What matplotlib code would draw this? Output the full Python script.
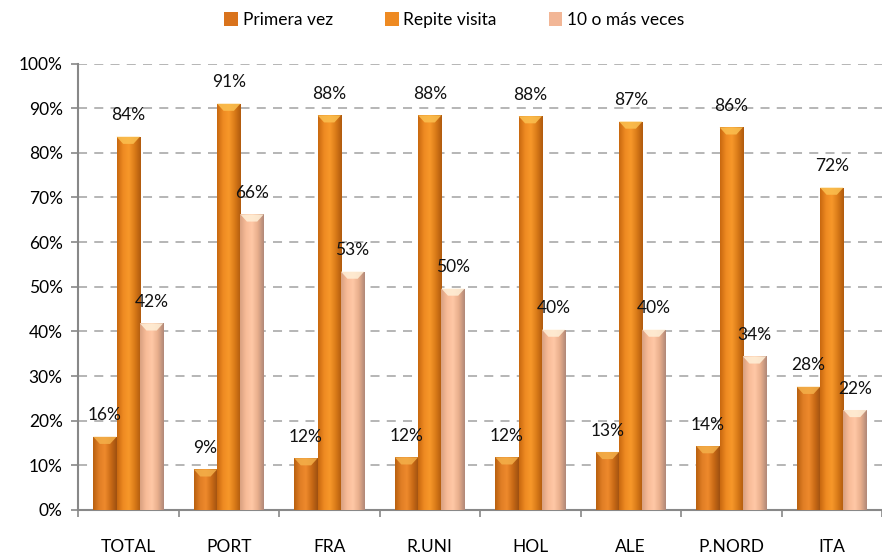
import matplotlib
matplotlib.use("Agg")
import matplotlib.pyplot as plt
import numpy as np
from matplotlib.colors import LinearSegmentedColormap
from matplotlib.patches import Patch, Polygon

categories = ["TOTAL", "PORT", "FRA", "R.UNI", "HOL", "ALE", "P.NORD", "ITA"]
series_names = ["Primera vez", "Repite visita", "10 o más veces"]
primera = [16.4, 9.1, 11.6, 11.8, 11.8, 13.0, 14.3, 27.6]
repite = [83.6, 91.0, 88.4, 88.4, 88.2, 87.0, 85.7, 72.2]
diez = [41.8, 66.2, 53.4, 49.6, 40.4, 40.4, 34.4, 22.4]
values = [primera, repite, diez]

# gradient stops across each bar for each series
grads = [
    ["#B9600F", "#E07E25", "#EE8A2C", "#C96A16", "#9E5010"],
    ["#C8680F", "#EE8A22", "#F8982A", "#D97A18", "#B05A0E"],
    ["#D9A080", "#F8BC98", "#FFC8A6", "#E8AE8C", "#B08878"],
]
legend_colors = ["#D9731C", "#EE8A22", "#F2B696"]
bevel_colors = ["#F4B04A", "#FBC050", "#FFF0D8"]

plt.rcParams["font.family"] = ["Lato", "DejaVu Sans"]
FS = 12.5

fig = plt.figure(figsize=(8.82, 5.56), dpi=100)
ax = fig.add_axes([78 / 882, 1 - 510 / 556, (882 - 78) / 882, (510 - 63.5) / 556])

n = len(categories)
x = np.arange(n)
bw = 0.232
offsets = [-bw, 0, bw]

ax.set_xlim(-0.5, n - 0.5)
ax.set_ylim(0, 100)

for s in range(3):
    cmap = LinearSegmentedColormap.from_list(f"g{s}", grads[s])
    grad = np.linspace(0, 1, 64).reshape(1, -1)
    bars = ax.bar(x + offsets[s], values[s], width=bw, color=legend_colors[s],
                  edgecolor="none", zorder=3)
    for b, v in zip(bars, values[s]):
        x0, w = b.get_x(), b.get_width()
        im = ax.imshow(grad, cmap=cmap, aspect="auto",
                       extent=[x0, x0 + w, 0, v], zorder=3.1, interpolation="bicubic")
        im.set_clip_path(b)
        h = 1.6
        poly = Polygon([[x0, v], [x0 + w, v], [x0 + w * 0.72, v - h], [x0 + w * 0.28, v - h]],
                       closed=True, facecolor=bevel_colors[s], edgecolor="none",
                       alpha=0.85, zorder=3.2)
        ax.add_patch(poly)
        ax.text(x0 + w / 2, v + 3.0, f"{round(v):d}%", ha="center", va="bottom",
                fontsize=FS, color="#111111", zorder=4)

ax.set_yticks(np.arange(0, 101, 10))
ax.set_yticklabels([f"{t}%" for t in range(0, 101, 10)], fontsize=FS)
ax.yaxis.grid(True, linestyle=(0, (5, 4)), color="#B0B0B0", linewidth=1.3, zorder=0)
ax.set_axisbelow(True)

ax.set_xticks(x)
ax.set_xticklabels(categories, fontsize=FS)
ax.set_xticks(np.arange(-0.5, n, 1), minor=True)
ax.tick_params(axis="x", which="major", length=0, pad=21)
ax.tick_params(axis="x", which="minor", length=5, color="#888888", width=1.2)
ax.tick_params(axis="y", length=5, color="#888888", width=1.2, pad=6)

for sp in ["top", "right"]:
    ax.spines[sp].set_visible(False)
ax.spines["left"].set_color("#888888")
ax.spines["left"].set_linewidth(1.5)
ax.spines["bottom"].set_color("#888888")
ax.spines["bottom"].set_linewidth(1.5)

handles = [Patch(facecolor=c, edgecolor="none") for c in legend_colors]
fig.legend(handles, series_names, loc="center", bbox_to_anchor=(0.515, 1 - 20 / 556),
           ncol=3, frameon=False, fontsize=FS, handlelength=0.8, handleheight=0.8,
           handletextpad=0.25, columnspacing=3.0)

fig.savefig("out.png", dpi=100)
